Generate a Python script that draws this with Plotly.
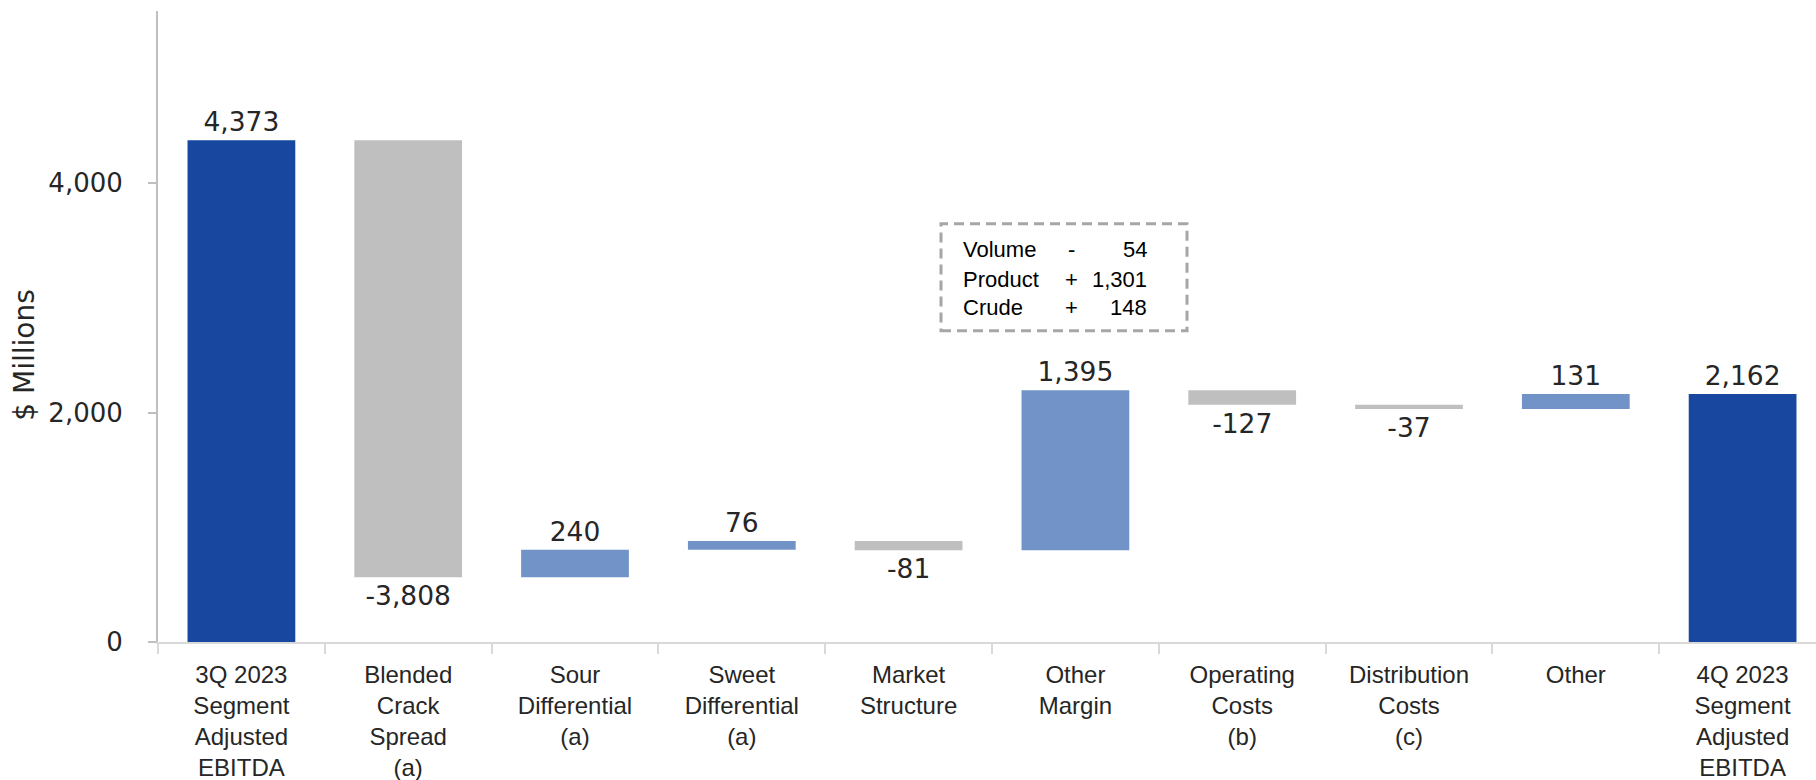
import plotly.graph_objects as go

# Segment adjusted EBITDA bridge, 3Q 2023 -> 4Q 2023 ($ millions)
categories = [
    "3Q 2023<br>Segment<br>Adjusted<br>EBITDA",
    "Blended<br>Crack<br>Spread<br>(a)",
    "Sour<br>Differential<br>(a)",
    "Sweet<br>Differential<br>(a)",
    "Market<br>Structure",
    "Other<br>Margin",
    "Operating<br>Costs<br>(b)",
    "Distribution<br>Costs<br>(c)",
    "Other",
    "4Q 2023<br>Segment<br>Adjusted<br>EBITDA",
]
start_total = 4373
changes = [-3808, 240, 76, -81, 1395, -127, -37, 131]
end_total = 2162

# Breakdown of the "Other Margin" step
margin_items = ["Volume", "Product", "Crude"]
margin_signs = ["-", "+", "+"]
margin_values = [54, 1301, 148]

y_ticks = [0, 2000, 4000]

values = [start_total] + changes + [end_total]
measures = ["absolute"] + ["relative"] * len(changes) + ["absolute"]
labels = [f"{v:,}" for v in values]

TOTAL_BLUE = "#17479E"
UP_BLUE = "#7293C7"
DOWN_GREY = "#BFBFBF"
TEXT = "#262626"

fig = go.Figure(
    go.Waterfall(
        x=categories,
        y=values,
        measure=measures,
        text=labels,
        textposition="outside",
        textfont=dict(family="DejaVu Sans", size=26.5, color=TEXT),
        cliponaxis=False,
        connector=dict(visible=False),
        increasing=dict(marker=dict(color=UP_BLUE)),
        decreasing=dict(marker=dict(color=DOWN_GREY)),
        totals=dict(marker=dict(color=TOTAL_BLUE)),
        hoverinfo="skip",
    )
)

# plot-area geometry in pixels (used to place the annotation box)
PL, PR, PT, PB = 158.0, 1816.0, 11.4, 642.3
def px_x(x):
    return (x - PL) / (PR - PL)
def px_y(y):
    return (PB - y) / (PB - PT)

annotations = []
row_y = [250, 279.5, 307.5]
for name, sign, val, ry in zip(margin_items, margin_signs, margin_values, row_y):
    f = dict(family="Liberation Sans, Arial, sans-serif", size=22, color="#000000")
    annotations.append(dict(x=px_x(961), y=px_y(ry), xref="paper", yref="paper",
                            text=name, showarrow=False, xanchor="left", yanchor="middle", font=f))
    annotations.append(dict(x=px_x(1071), y=px_y(ry), xref="paper", yref="paper",
                            text=sign, showarrow=False, xanchor="center", yanchor="middle", font=f))
    annotations.append(dict(x=px_x(1149), y=px_y(ry), xref="paper", yref="paper",
                            text=f"{val:,}", showarrow=False, xanchor="right", yanchor="middle", font=f))

# y-axis title
annotations.append(dict(x=px_x(25), y=px_y(356), xref="paper", yref="paper",
                        text="$ Millions", textangle=-90, showarrow=False,
                        xanchor="center", yanchor="middle",
                        font=dict(family="DejaVu Sans", size=28, color=TEXT)))

fig.update_layout(
    width=1816,
    height=780,
    margin=dict(l=PL, r=1816 - PR, t=PT, b=780 - PB, pad=0),
    paper_bgcolor="white",
    plot_bgcolor="white",
    showlegend=False,
    waterfallgap=0.354,
    annotations=annotations,
    shapes=[dict(type="rect", xref="paper", yref="paper",
                 x0=px_x(941), x1=px_x(1187), y0=px_y(331), y1=px_y(224),
                 line=dict(color="#A6A6A6", width=3, dash="10px,6px"))],
)

fig.update_xaxes(
    range=[-0.5, 9.44],
    showline=True, linecolor="#D9D9D9", linewidth=2,
    ticks="outside", tickson="boundaries", ticklen=10, tickcolor="#D9D9D9", tickwidth=2,
    ticklabelstandoff=10,
    tickfont=dict(family="Liberation Sans, Arial, sans-serif", size=24, color=TEXT),
    showgrid=False, zeroline=False, automargin=False, fixedrange=True,
)
fig.update_yaxes(
    range=[0, 5500],
    tickvals=y_ticks, tickformat=",",
    showline=True, linecolor="#BFBFBF", linewidth=2,
    ticks="outside", ticklen=8, tickcolor="#BFBFBF", tickwidth=2,
    ticklabelstandoff=20,
    tickfont=dict(family="DejaVu Sans", size=26, color=TEXT),
    showgrid=False, zeroline=False, automargin=False, fixedrange=True,
)

fig.write_html("out.html")
